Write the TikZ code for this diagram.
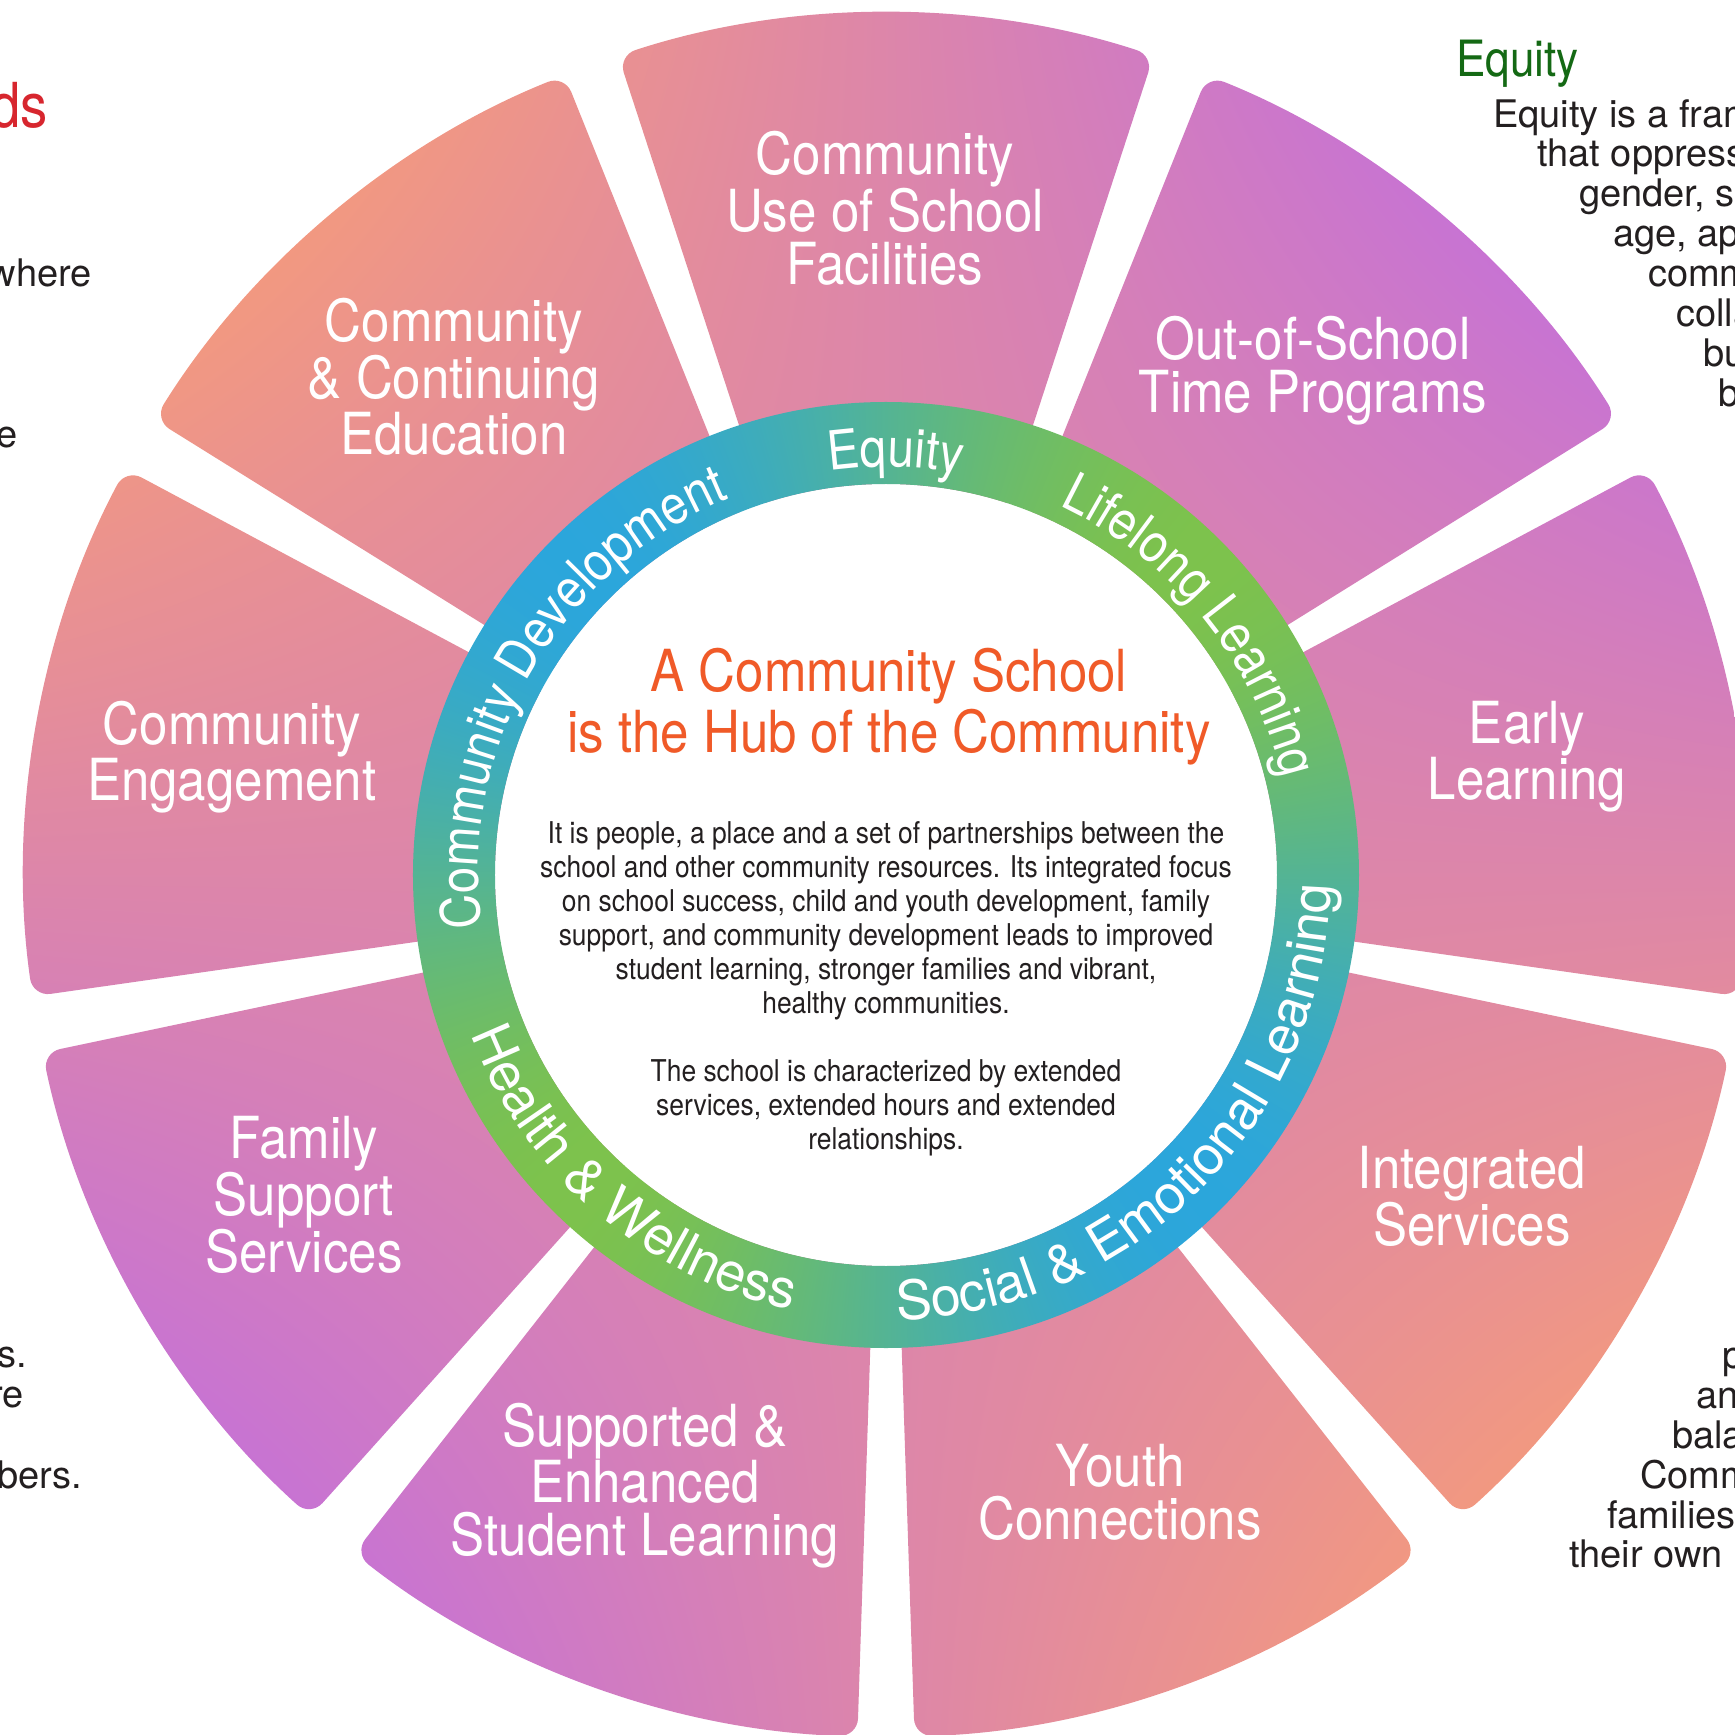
\documentclass[tikz,border=0pt]{standalone}
\usepackage{fontspec}
\setmainfont{TeX Gyre Heros}[FakeStretch=0.88]
\newfontfamily\widefont{TeX Gyre Heros}
\usetikzlibrary{decorations.text}

\definecolor{hubtitle}{RGB}{240,90,40}
\definecolor{bodygray}{RGB}{35,31,32}
\definecolor{equitygreen}{RGB}{20,105,20}
\definecolor{needsred}{RGB}{215,38,46}

\def\petalfont{\fontsize{58}{53}\selectfont}
\def\ringfont{\fontsize{54}{54}\selectfont\color{white}}
\def\ringwidefont{\widefont\fontsize{54}{54}\selectfont\color{white}}
\def\titlefont{\fontsize{58}{61}\selectfont}
\def\bodyfont{\fontsize{30}{34}\selectfont}
\def\sidefont{\widefont\fontsize{38}{40}\selectfont}
\def\headfont{\fontsize{50}{50}\selectfont}

% petals: orange to the top left and bottom right, purple to the top right and bottom left
\pgfdeclarefunctionalshading{petalshade}{\pgfpointorigin}{\pgfpoint{1800bp}{1800bp}}{}{
  900 sub exch 900 sub mul 380000 div
  dup -1 lt {pop -1} if
  dup 1 gt {pop 1} if
  1 add 2 div
  dup -0.17 mul 0.95 add exch
  dup -0.15 mul 0.60 add exch
  0.33 mul 0.50 add
}
% ring: blue at 135 and 315 degrees, green at 45 and 225 degrees
\pgfdeclarefunctionalshading{ringshade}{\pgfpointorigin}{\pgfpoint{1000bp}{1000bp}}{}{
  500 sub exch 500 sub
  2 copy mul 3 1 roll
  dup mul exch dup mul add 1 add
  div 0.5 add
  dup 0.32 mul 0.17 add exch
  dup 0.11 mul 0.65 add exch
  -0.56 mul 0.86 add
}

\tikzset{
  petal/.style={text=white, font=\petalfont, align=center},
  sidetext/.style={text=bodygray, font=\sidefont, inner sep=0},
  ringtext/.style={decorate, decoration={text along path, text align=center, text={|\ringfont|#1}}},
  ringtextwide/.style={decorate, decoration={text along path, text align=center, text={|\ringwidefont|#1}}}
}

\begin{document}
\begin{tikzpicture}[x=1pt,y=1pt]
		%%%%% START %%%%%
		\useasboundingbox (-886,-860) rectangle (849,875);
		
		% petals
		\begin{scope}
			\clip[rounded corners=18pt]
				(0,0) -- (71.9:862) arc (71.9:108.1:862) -- cycle
				(0,0) -- (31.9:862) arc (31.9:68.1:862) -- cycle
				(0,0) -- (-8.1:862) arc (-8.1:28.1:862) -- cycle
				(0,0) -- (-48.1:862) arc (-48.1:-11.9:862) -- cycle
				(0,0) -- (-88.1:862) arc (-88.1:-51.9:862) -- cycle
				(0,0) -- (-128.1:862) arc (-128.1:-91.9:862) -- cycle
				(0,0) -- (-168.1:862) arc (-168.1:-131.9:862) -- cycle
				(0,0) -- (151.9:862) arc (151.9:188.1:862) -- cycle
				(0,0) -- (111.9:862) arc (111.9:148.1:862) -- cycle;
			\node[inner sep=0] (petalfill) at (0,0) {\pgfuseshading{petalshade}};
		\end{scope}
		
		% ring
		\fill[white] (0,0) circle (391);
		\begin{scope}[even odd rule]
			\clip (0,0) circle (473) (0,0) circle (391);
			\node[inner sep=0] (ringfill) at (0,0) {\pgfuseshading{ringshade}};
		\end{scope}
		
		\path[ringtext=Equity] (158.7:408) arc (158.7:18.7:408);
		\path[ringtext=Lifelong Learning] (109.2:408) arc (109.2:-30.8:408);
		\path[ringtext=Community Development] (220:408) arc (220:80:408);
		\path[ringtextwide=Social {\&} Emotional Learning] (-114.9:445) arc (-114.9:25.1:445);
		\path[ringtextwide=Health {\&} Wellness] (159.4:445) arc (159.4:299.4:445);
		
		% hub
		\node[text=hubtitle, font=\titlefont, align=center] (title) at (3,168) {A Community School\\is the Hub of the Community};
		\node[text=bodygray, font=\bodyfont, align=center] (body) at (0,-114) {It is people, a place and a set of partnerships between the\\school and other community resources. Its integrated focus\\on school success, child and youth development, family\\support, and community development leads to improved\\student learning, stronger families and vibrant,\\healthy communities.\\[34pt]The school is characterized by extended\\services, extended hours and extended\\relationships.};
		
		% petal labels
		\node[petal] (useschool) at (-1,667) {Community\\Use of School\\Facilities};
		\node[petal] (outschool) at (427,504) {Out-of-School\\Time Programs};
		\node[petal] (early) at (641,118) {Early\\Learning};
		\node[petal] (integrated) at (586,-321) {Integrated\\Services};
		\node[petal] (youth) at (234,-617) {Youth\\Connections};
		\node[petal] (supported) at (-241,-611) {Supported \&\\Enhanced\\Student Learning};
		\node[petal] (family) at (-582,-320) {Family\\Support\\Services};
		\node[petal] (engage) at (-654,118) {Community\\Engagement};
		\node[petal] (continuing) at (-432,498) {Community\\\& Continuing\\Education};
		
		% text cut by the right edge
		\node[text=equitygreen, font=\headfont, inner sep=0, anchor=base west] (eqhead) at (570,798) {Equity};
		\node[sidetext, anchor=base west] (eq1) at (607,747) {Equity is a fram};
		\node[sidetext, anchor=base west] (eq2) at (651,708) {that oppress};
		\node[sidetext, anchor=base west] (eq3) at (693,668) {gender, s};
		\node[sidetext, anchor=base west] (eq4) at (727,628) {age, ap};
		\node[sidetext, anchor=base west] (eq5) at (762,588) {comm};
		\node[sidetext, anchor=base west] (eq6) at (790,548) {colla};
		\node[sidetext, anchor=base west] (eq7) at (817,508) {bu};
		\node[sidetext, anchor=base west] (eq8) at (832,468) {b};
		
		\node[sidetext, anchor=base west] (br1) at (836,-493) {p};
		\node[sidetext, anchor=base west] (br2) at (810,-533) {an};
		\node[sidetext, anchor=base west] (br3) at (786,-573) {bala};
		\node[sidetext, anchor=base west] (br4) at (754,-613) {Comm};
		\node[sidetext, anchor=base west] (br5) at (721,-653) {families};
		\node[sidetext, anchor=base west] (br6) at (683,-692) {their own l};
		
		% text cut by the left edge
		\node[text=needsred, font=\fontsize{62}{62}\selectfont, inner sep=0, anchor=base east] (needs) at (-838,747) {ds};
		\node[sidetext, anchor=base east] (tl1) at (-794,588) {where};
		\node[sidetext, anchor=base east] (tl2) at (-868,427) {e};
		\node[sidetext, anchor=base east] (bl1) at (-859,-492) {rs.};
		\node[sidetext, anchor=base east] (bl2) at (-862,-532) {re};
		\node[sidetext, anchor=base east] (bl3) at (-804,-613) {bers.};
		
		%%%%% END %%%%%
\end{tikzpicture}
\end{document}
